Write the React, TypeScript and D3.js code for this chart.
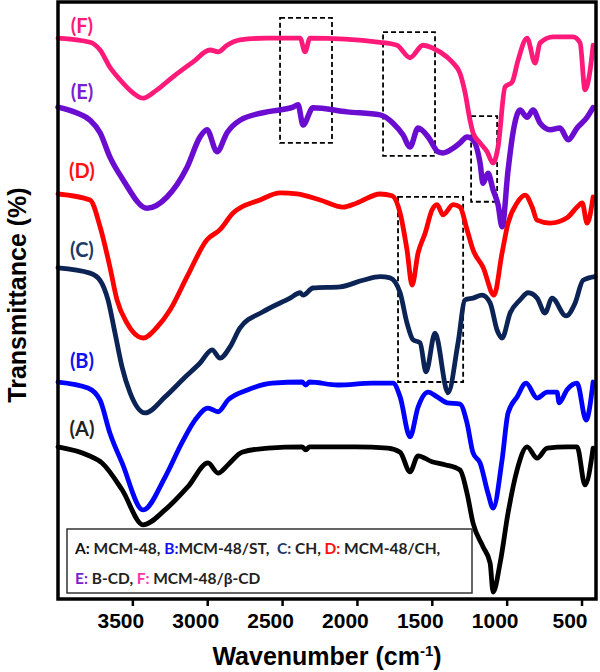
import React from 'react';
import * as d3 from 'd3';

const W = 600;
const H = 672;

// x-axis ticks (wavenumber, cm-1)
const xTicks = [3500, 3000, 2500, 2000, 1500, 1000, 500];

// Spectra: [wavenumber, transmittance (a.u., offset)]
const specA: [number, number][] = [
  [4000, 25.4], [3800, 24.0], [3706, 22.7], [3572, 18.2], [3432, 12.3], [3285, 14.8],
  [3132, 18.7], [2998, 22.7], [2931, 21.0], [2864, 22.4], [2771, 24.5], [2597, 25.2],
  [2370, 25.4], [2345, 24.9], [2320, 25.4], [2016, 25.4], [1796, 25.2], [1715, 24.5],
  [1649, 21.2], [1595, 23.9], [1502, 22.9], [1415, 22.4], [1315, 21.5], [1268, 17.6],
  [1228, 12.6], [1161, 8.6], [1114, 5.9], [1094, 1.0], [1047, 5.9], [994, 14.3],
  [934, 21.5], [867, 25.4], [800, 23.5], [733, 25.2], [600, 25.4], [533, 25.4],
  [480, 19.0], [426, 25.2],
];

const specB: [number, number][] = [
  [4000, 36.3], [3800, 35.3], [3720, 33.3], [3653, 27.7], [3572, 22.7], [3432, 14.8],
  [3285, 20.3], [3172, 26.1], [3085, 29.9], [2998, 31.9], [2931, 31.3], [2864, 33.3],
  [2731, 35.0], [2570, 36.1], [2370, 36.3], [2345, 35.8], [2320, 36.3], [2130, 35.8],
  [1902, 36.1], [1762, 36.1], [1715, 33.8], [1649, 27.1], [1595, 32.1], [1528, 34.6],
  [1468, 33.8], [1401, 32.8], [1315, 32.6], [1268, 29.4], [1228, 24.4], [1181, 22.7],
  [1128, 17.6], [1094, 15.1], [1034, 23.2], [994, 31.1], [934, 33.8], [874, 36.1],
  [800, 33.6], [733, 34.6], [667, 34.6], [653, 32.8], [600, 35.0], [533, 36.1],
  [473, 29.9], [426, 36.3],
];

const specC: [number, number][] = [
  [4000, 55.5], [3786, 54.6], [3719, 53.4], [3666, 50.1], [3619, 44.5], [3572, 38.8],
  [3519, 34.5], [3419, 31.1], [3285, 33.8], [3152, 37.1], [3051, 39.5], [2971, 41.7],
  [2918, 40.3], [2851, 42.2], [2784, 45.4], [2631, 48.1], [2450, 50.4], [2383, 51.3],
  [2363, 50.9], [2297, 52.1], [2116, 52.3], [1963, 53.4], [1849, 54.0], [1782, 53.8],
  [1715, 51.3], [1669, 46.2], [1629, 43.4], [1582, 42.9], [1542, 38.0], [1482, 44.5],
  [1395, 34.5], [1328, 42.9], [1281, 50.1], [1228, 50.4], [1168, 50.9], [1114, 49.6],
  [1067, 45.0], [1034, 43.7], [980, 47.9], [914, 50.1], [860, 51.3], [800, 50.4],
  [747, 47.9], [700, 50.4], [607, 47.4], [546, 49.6], [493, 53.4], [413, 54.0],
];

const specD: [number, number][] = [
  [4000, 67.9], [3786, 66.9], [3719, 62.4], [3653, 55.6], [3606, 50.1], [3539, 46.2],
  [3432, 43.7], [3339, 45.5], [3252, 48.4], [3138, 54.0], [3005, 60.2], [2918, 61.9],
  [2831, 64.7], [2651, 66.9], [2517, 68.1], [2404, 67.9], [2250, 66.9], [2096, 65.7],
  [2003, 66.4], [1849, 67.9], [1769, 67.6], [1715, 64.7], [1669, 58.5], [1635, 52.6],
  [1595, 58.0], [1548, 61.3], [1502, 65.2], [1468, 66.1], [1428, 64.4], [1361, 66.1],
  [1315, 65.7], [1268, 61.9], [1228, 58.5], [1161, 55.6], [1088, 50.9], [1034, 58.0],
  [994, 63.0], [934, 66.4], [880, 67.7], [833, 65.7], [800, 63.5], [713, 63.0],
  [600, 63.9], [533, 65.7], [499, 66.4], [466, 63.0], [426, 67.4],
];

const specE: [number, number][] = [
  [4000, 82.5], [3873, 81.5], [3786, 80.3], [3719, 78.2], [3653, 74.1], [3566, 70.3],
  [3405, 65.5], [3272, 67.4], [3138, 72.4], [3051, 77.5], [3005, 78.7], [2938, 75.0],
  [2871, 78.2], [2784, 80.3], [2604, 81.7], [2430, 82.5], [2397, 82.9], [2363, 79.5],
  [2297, 82.4], [2070, 81.7], [1849, 81.2], [1762, 79.8], [1695, 77.8], [1649, 75.8],
  [1595, 79.0], [1528, 77.5], [1462, 75.0], [1428, 74.8], [1361, 75.6], [1315, 76.5],
  [1268, 77.5], [1228, 77.0], [1181, 73.1], [1161, 69.7], [1128, 71.4], [1094, 68.6],
  [1061, 66.1], [1034, 62.4], [994, 71.9], [961, 78.2], [914, 82.0], [867, 80.8],
  [827, 82.0], [780, 79.8], [713, 78.7], [647, 79.0], [593, 77.0], [533, 79.0],
  [466, 80.8], [426, 82.4],
];

const specF: [number, number][] = [
  [4000, 94.1], [3786, 93.4], [3719, 92.1], [3653, 89.2], [3586, 87.1], [3499, 84.9],
  [3432, 84.0], [3339, 85.4], [3232, 87.6], [3098, 90.1], [2985, 92.1], [2931, 91.8],
  [2871, 92.9], [2784, 93.8], [2604, 94.1], [2383, 94.1], [2350, 91.8], [2317, 94.1],
  [1849, 93.4], [1736, 92.9], [1649, 90.8], [1562, 92.9], [1495, 92.4], [1401, 90.9],
  [1361, 89.9], [1315, 88.2], [1281, 84.9], [1248, 80.3], [1228, 78.2], [1181, 76.5],
  [1134, 75.0], [1094, 73.1], [1061, 75.8], [1014, 85.9], [967, 86.7], [927, 90.4],
  [867, 94.1], [814, 89.9], [780, 93.3], [693, 94.3], [560, 94.3], [513, 93.3],
  [480, 85.4], [446, 88.7], [426, 92.9],
];

const seriesData = [specA, specB, specC, specD, specE, specF];
const seriesLabels = ['(A)', '(B)', '(C)', '(D)', '(E)', '(F)'];
const seriesColors = ['#000000', '#0000ff', '#0c2356', '#ff0000', '#6a0dd0', '#ff1a7a'];
const labelColors = ['#222222', '#1010f0', '#1f3a66', '#ff1010', '#7a1fd0', '#ff1a7a'];
// label anchor positions (wavenumber, value)
const labelAnchors: [number, number][] = [
  [3840, 28.6], [3840, 40.0], [3840, 58.7], [3840, 71.9], [3840, 85.2], [3840, 96.3],
];

// dashed highlight boxes: [w1, w2, v1, v2]
const boxes: [number, number, number, number][] = [
  [2517, 2170, 97.5, 76.5],
  [1829, 1482, 95.1, 74.3],
  [1241, 1067, 81.0, 66.6],
  [1729, 1294, 67.4, 36.3],
];

// legend rows: segments [key, text, key colour]
const legendRows: [string, string, string][][] = [
  [
    ['A:', ' MCM-48, ', '#111'],
    ['B:', 'MCM-48/ST,  ', '#1010f0'],
    ['C:', ' CH, ', '#1f3a66'],
    ['D:', ' MCM-48/CH,', '#ff1010'],
  ],
  [
    ['E:', ' B-CD, ', '#7a1fd0'],
    ['F:', ' MCM-48/\u03b2-CD', '#ff33aa'],
  ],
];

export default function App() {
  const left = 58, right = 597, top = 3, bottom = 598;
  const x = d3.scaleLinear().domain([4000, 400]).range([left, right]);
  const y = d3.scaleLinear().domain([0, 100]).range([bottom, top]);
  const line = d3
    .line<[number, number]>()
    .x((d) => x(d[0]))
    .y((d) => y(d[1]))
    .curve(d3.curveMonotoneX);

  const legendX = 67, legendY = 529, legendW = 405, legendH = 64;

  return (
    <svg
      width={W}
      height={H}
      style={{ position: 'absolute', left: 0, top: 0, background: '#fff' }}
      fontFamily="'Liberation Sans', Arial, sans-serif"
    >
      <rect x={0} y={0} width={W} height={H} fill="#fff" />
      {boxes.map((b, i) => (
        <rect
          key={'box' + i}
          x={x(b[0])}
          y={y(b[2])}
          width={x(b[1]) - x(b[0])}
          height={y(b[3]) - y(b[2])}
          fill="none"
          stroke="#000"
          strokeWidth={1.8}
          strokeDasharray="5,3"
        />
      ))}
      {seriesData.map((s, i) => (
        <path
          key={'s' + i}
          d={line(s) || ''}
          fill="none"
          stroke={seriesColors[i]}
          strokeWidth={i === 4 ? 5.5 : 4.8}
          strokeLinejoin="round"
          strokeLinecap="round"
        />
      ))}
      {seriesLabels.map((t, i) => (
        <text
          key={'l' + i}
          x={x(labelAnchors[i][0])}
          y={y(labelAnchors[i][1])}
          fill={labelColors[i]}
          fontFamily="Lato, 'Open Sans', sans-serif"
          fontWeight="bold"
          fontSize={20}
          textAnchor="middle"
          dominantBaseline="central"
        >
          {t}
        </text>
      ))}
      <rect
        x={left}
        y={top - 1}
        width={596 - left}
        height={bottom + 1 - (top - 1)}
        fill="none"
        stroke="#000"
        strokeWidth={3.5}
      />
      {xTicks.map((t) => (
        <g key={'t' + t}>
          <line x1={x(t)} x2={x(t)} y1={bottom + 1} y2={bottom + 8} stroke="#000" strokeWidth={2.5} />
          <text
            x={x(t) - 12}
            y={628}
            textAnchor="middle"
            fontWeight="bold"
            fontSize={21}
            fill="#000"
          >
            {t}
          </text>
        </g>
      ))}
      <text x={327} y={665} textAnchor="middle" fontWeight="bold" fontSize={25} fill="#000">
        Wavenumber (cm
        <tspan dy={-9} fontSize={15}>-1</tspan>
        <tspan dy={9}>)</tspan>
      </text>
      <text
        transform="translate(26,295) rotate(-90)"
        textAnchor="middle"
        fontWeight="bold"
        fontSize={25}
        fill="#000"
      >
        Transmittance (%)
      </text>
      <rect
        x={legendX}
        y={legendY}
        width={legendW}
        height={legendH}
        fill="#fff"
        stroke="#333"
        strokeWidth={1.5}
      />
      {legendRows.map((row, ri) => (
        <text
          key={'lr' + ri}
          x={legendX + 8}
          y={legendY + 25 + ri * 30}
          fontFamily="Lato, 'Open Sans', sans-serif"
          fontWeight="bold"
          fontSize={15.5}
          fill="#222"
          style={{ whiteSpace: 'pre' }}
        >
          {row.map((seg, si) => (
            <React.Fragment key={si}>
              <tspan fill={seg[2]}>{seg[0]}</tspan>
              <tspan fill="#222">{seg[1]}</tspan>
            </React.Fragment>
          ))}
        </text>
      ))}
    </svg>
  );
}
